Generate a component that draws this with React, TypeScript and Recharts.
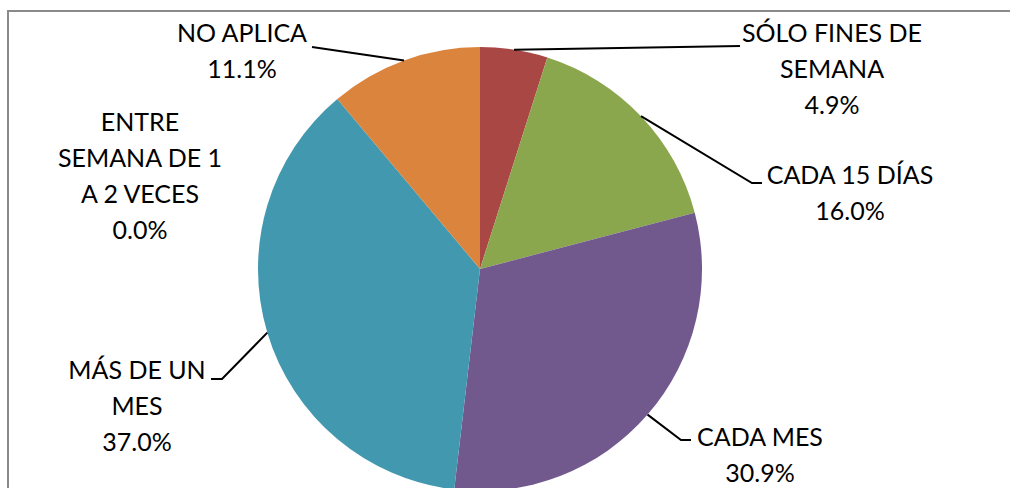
import React from 'react';
import { PieChart, Pie, Cell } from 'recharts';

const categories = [
  'SÓLO FINES DE SEMANA',
  'CADA 15 DÍAS',
  'CADA MES',
  'MÁS DE UN MES',
  'ENTRE SEMANA DE 1 A 2 VECES',
  'NO APLICA',
];
const values = [4.9, 16.0, 30.9, 37.0, 0.0, 11.1];
const colors = ['#A94745', '#8AA74E', '#71598E', '#4298AF', '#3E7FB8', '#DB843D'];
const labelLines = [
  ['SÓLO FINES DE', 'SEMANA'],
  ['CADA 15 DÍAS'],
  ['CADA MES'],
  ['MÁS DE UN', 'MES'],
  ['ENTRE', 'SEMANA DE 1', 'A 2 VECES'],
  ['NO APLICA'],
];

// label layout, offsets relative to pie centre
const labelLayout = [
  { tx: 352, ty: -236, leader: [[260, -223]] },
  { tx: 370, ty: -94, leader: [[272, -86], [282, -86]] },
  { tx: 280, ty: 168, leader: [[201, 171], [211, 171]] },
  { tx: -343, ty: 101, leader: [[-258, 110], [-269, 110]] },
  { tx: -340, ty: -147, leader: [] },
  { tx: -238, ty: -236, leader: [[-168, -222]] },
];

const data = categories.map((name, i) => ({ name, value: values[i] }));

const LINE_H = 36;
const RADIAN = Math.PI / 180;

const renderLabel = (props: any) => {
  const { cx, cy, midAngle, outerRadius, index, value } = props;
  const lay = labelLayout[index];
  const ex = cx + outerRadius * Math.cos(-midAngle * RADIAN);
  const ey = cy + outerRadius * Math.sin(-midAngle * RADIAN);
  const lines = [...labelLines[index], `${Number(value).toFixed(1)}%`];
  const pts = lay.leader.length
    ? [[ex, ey], ...lay.leader.map(([dx, dy]) => [cx + dx, cy + dy])]
    : [];
  return (
    <g key={`lbl-${index}`}>
      {pts.length > 0 && (
        <polyline
          points={pts.map((p) => p.join(',')).join(' ')}
          fill="none"
          stroke="#000"
          strokeWidth={2}
        />
      )}
      {lines.map((t, k) => (
        <text
          key={k}
          x={cx + lay.tx}
          y={cy + lay.ty + k * LINE_H + 9}
          textAnchor="middle"
          fontFamily="Lato, 'Open Sans', sans-serif"
          fontSize={25}
          fill="#000"
        >
          {t}
        </text>
      ))}
    </g>
  );
};

export default function App() {
  return (
    <div
      style={{
        position: 'absolute',
        left: 0,
        top: 0,
        width: 1010,
        height: 488,
        overflow: 'hidden',
        background: '#fff',
      }}
    >
      <div
        style={{
          position: 'absolute',
          left: 7,
          top: 10,
          width: 1100,
          height: 600,
          border: '2px solid #8A8A8A',
        }}
      />
      <div style={{ position: 'absolute', left: 0, top: 0 }}>
        <PieChart width={1010} height={488} margin={{ top: 0, right: 0, bottom: 0, left: 0 }}>
          <Pie
            data={data}
            dataKey="value"
            nameKey="name"
            cx={480}
            cy={269}
            outerRadius={222}
            startAngle={90}
            endAngle={-270}
            stroke="none"
            label={renderLabel}
            labelLine={false}
            isAnimationActive={false}
          >
            {data.map((d, i) => (
              <Cell key={d.name} fill={colors[i]} />
            ))}
          </Pie>
        </PieChart>
      </div>
    </div>
  );
}
